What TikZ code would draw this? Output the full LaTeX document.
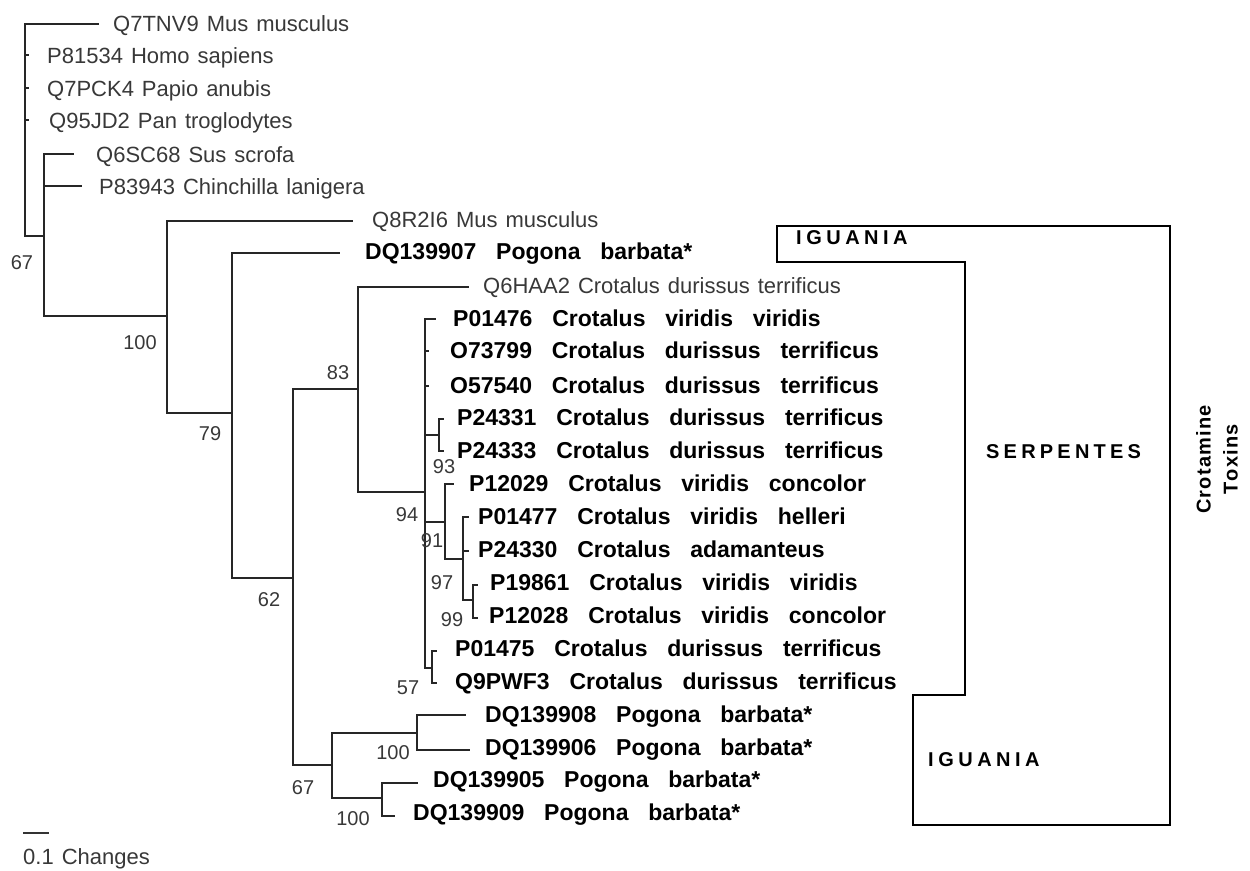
\documentclass[tikz,border=0pt]{standalone}
\usepackage{fontspec}
\setmainfont{Liberation Sans}
\newdimen\spk
\def\spx#1{\ifx#1\relax\else#1\kern\spk\expandafter\spx\fi}
\begin{document}
\begin{tikzpicture}[x=1pt,y=-1pt,
  br/.style={line width=2.4pt, draw=black!85, line cap=rect},
  boxline/.style={line width=2.5pt, draw=black, line join=miter},
  reg/.style={anchor=base west, inner sep=0pt, text=black!78,
    font={\fontsize{22}{25}\selectfont\spaceskip=8pt\relax}},
  bld/.style={anchor=base west, inner sep=0pt, text=black,
    font={\bfseries\fontsize{23}{26}\selectfont\spaceskip=19.8pt\relax}},
  num/.style={anchor=base, inner sep=0pt, text=black!78, font=\fontsize{20}{23}\selectfont},
  grp/.style={anchor=west, inner sep=0pt, text=black, font=\bfseries\fontsize{20}{22}\selectfont},
]
\useasboundingbox (0,0) rectangle (1250,870);

% ---------- tree branches ----------
% node A (x=25)
\coordinate (nA) at (25,236);
\draw[br] (98,24) -- (25,24) -- (25,236) -- (44,236);
\draw[br] (25,55) -- (28,55);
\draw[br] (25,88) -- (28,88);
\draw[br] (25,120) -- (28,120);
% node B (x=44)
\coordinate (nB) at (44,316);
\draw[br] (73,154) -- (44,154) -- (44,316) -- (167,316);
\draw[br] (44,186) -- (81,186);
% node C (x=167)
\coordinate (nC) at (167,316);
\draw[br] (352,221) -- (167,221) -- (167,413) -- (232,413);
% node D (x=232)
\draw[br] (339,253) -- (232,253) -- (232,578) -- (293,578);
% node E (x=293)
\draw[br] (358,389) -- (293,389) -- (293,765) -- (332,765);
% node F (x=358)
\draw[br] (468,287) -- (358,287) -- (358,492) -- (425,492);
% node G (x=425)
\draw[br] (435,319) -- (425,319) -- (425,668) -- (432,668);
\draw[br] (425,351) -- (428,351);
\draw[br] (425,386) -- (428,386);
\draw[br] (425,435) -- (439,435);
\draw[br] (425,522) -- (445,522);
% node H (x=439)
\draw[br] (443,419) -- (439,419) -- (439,451) -- (443,451);
% node I (x=445)
\draw[br] (453,484) -- (445,484) -- (445,559) -- (463,559);
% node J (x=463)
\draw[br] (468,517) -- (463,517) -- (463,600) -- (473,600);
\draw[br] (463,551) -- (468,551);
% node K (x=473)
\draw[br] (477,585) -- (473,585) -- (473,618) -- (477,618);
% node L (x=432)
\draw[br] (436,651) -- (432,651) -- (432,683) -- (436,683);
% node M (x=332)
\draw[br] (417,733) -- (332,733) -- (332,798) -- (382,798);
% node N (x=417)
\draw[br] (465,715) -- (417,715) -- (417,750) -- (469,750);
% node O (x=382)
\draw[br] (417,783) -- (382,783) -- (382,816) -- (394,816);

% ---------- leaf labels ----------
\node[reg] (l0) at (113,31) {Q7TNV9 Mus musculus};
\node[reg] (l1) at (47,63) {P81534 Homo sapiens};
\node[reg] (l2) at (47,96) {Q7PCK4 Papio anubis};
\node[reg] (l3) at (49,128) {Q95JD2 Pan troglodytes};
\node[reg] (l4) at (96,162) {Q6SC68 Sus scrofa};
\node[reg] (l5) at (99,194) {P83943 Chinchilla lanigera};
\node[reg] (l6) at (372,227) {Q8R2I6 Mus musculus};
\node[bld] (l7) at (365,259) {DQ139907 Pogona barbata*};
\node[reg] (l8) at (483,293) {Q6HAA2 Crotalus durissus terrificus};
\node[bld] (l9) at (453,326) {P01476 Crotalus viridis viridis};
\node[bld] (l10) at (450,358) {O73799 Crotalus durissus terrificus};
\node[bld] (l11) at (450,393) {O57540 Crotalus durissus terrificus};
\node[bld] (l12) at (457,425) {P24331 Crotalus durissus terrificus};
\node[bld] (l13) at (457,458) {P24333 Crotalus durissus terrificus};
\node[bld] (l14) at (469,491) {P12029 Crotalus viridis concolor};
\node[bld] (l15) at (478,524) {P01477 Crotalus viridis helleri};
\node[bld] (l16) at (478,557) {P24330 Crotalus adamanteus};
\node[bld] (l17) at (490,590) {P19861 Crotalus viridis viridis};
\node[bld] (l18) at (489,623) {P12028 Crotalus viridis concolor};
\node[bld] (l19) at (455,656) {P01475 Crotalus durissus terrificus};
\node[bld] (l20) at (455,689) {Q9PWF3 Crotalus durissus terrificus};
\node[bld] (l21) at (485,722) {DQ139908 Pogona barbata*};
\node[bld] (l22) at (485,755) {DQ139906 Pogona barbata*};
\node[bld] (l23) at (433,787) {DQ139905 Pogona barbata*};
\node[bld] (l24) at (413,820) {DQ139909 Pogona barbata*};

% ---------- support values ----------
\node[num] (b67a) at (22,269) {67};
\node[num] (b100a) at (140,349) {100};
\node[num] (b79) at (210,440) {79};
\node[num] (b62) at (269,606) {62};
\node[num] (b83) at (338,379) {83};
\node[num] (b93) at (444,473) {93};
\node[num] (b94) at (407,521) {94};
\node[num] (b91) at (432,547) {91};
\node[num] (b97) at (442,589) {97};
\node[num] (b99) at (452,626) {99};
\node[num] (b57) at (408,694) {57};
\node[num] (b100b) at (393,759) {100};
\node[num] (b67b) at (303,794) {67};
\node[num] (b100c) at (353,825) {100};

% ---------- group box ----------
\draw[boxline] (777,226) -- (1170,226) -- (1170,825) -- (913,825) -- (913,695)
  -- (965,695) -- (965,262) -- (777,262) -- cycle;
\node[grp] (ig1) at (796,238) {\spk=4.5pt\spx IGUANIA\relax};
\node[grp] (serp) at (986,452) {\spk=4.2pt\spx SERPENTES\relax};
\node[grp] (ig2) at (928,760) {\spk=4.5pt\spx IGUANIA\relax};
\node[inner sep=0pt, rotate=90, align=center, text=black,
  font=\bfseries\fontsize{20}{27}\selectfont] (tox) at (1217,459)
  {\spk=1.2pt\spx Crotamine\relax\\\spk=1.2pt\spx Toxins\relax};

% ---------- scale bar ----------
\coordinate (s0) at (23,833);
\coordinate (s1) at (49,833);
\draw[line width=2pt, draw=black!80] (s0) -- (s1);
\node[reg] (scl) at (23,864) {0.1 Changes};
\end{tikzpicture}
\end{document}
